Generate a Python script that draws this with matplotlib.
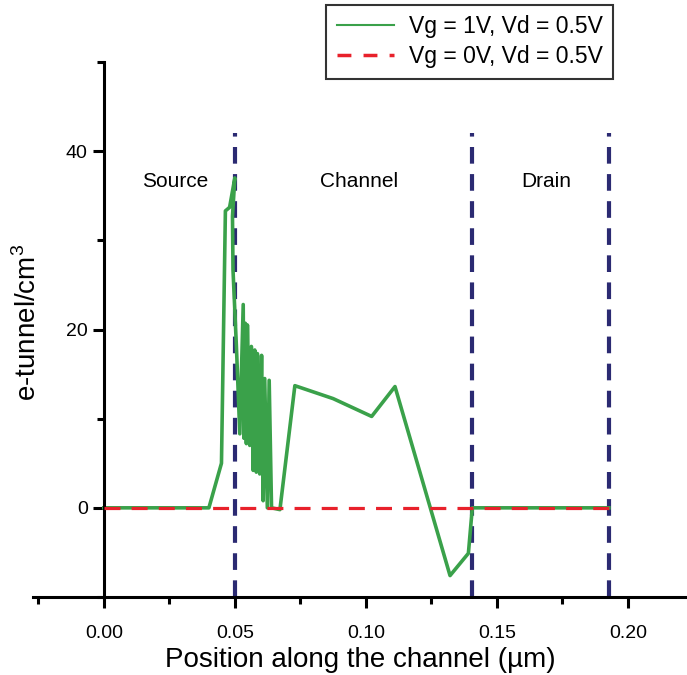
"""
plot.py
-------
e-tunnel density along the channel for two gate voltages.
Output: out.png
"""

import matplotlib.pyplot as plt
from matplotlib.lines import Line2D
from matplotlib.ticker import MultipleLocator

plt.rcParams["font.family"] = ["Liberation Sans", "DejaVu Sans"]

# ── Data ───────────────────────────────────────────────────────────────────────
POS_ON = [0.0, 0.0401, 0.0449, 0.0464, 0.0480, 0.0500, 0.0491, 0.0493, 0.0506,
          0.0519, 0.0532, 0.0535, 0.0540, 0.0544, 0.0548, 0.0557, 0.0563, 0.0570,
          0.0576, 0.0582, 0.0586, 0.0595, 0.0602, 0.0608, 0.0614, 0.0624, 0.0631,
          0.0640, 0.0672, 0.0729, 0.0875, 0.1022, 0.1111, 0.1321, 0.1391, 0.1406,
          0.1927]
TUNNEL_ON = [0.0, 0.0, 5.0, 33.3, 33.7, 37.0, 32.7, 26.7, 18.1,
             8.3, 22.8, 7.8, 20.7, 7.2, 20.5, 7.0, 18.1, 4.2,
             17.7, 4.0, 17.3, 3.8, 17.1, 0.8, 14.5, 0.0, 14.3,
             0.0, -0.2, 13.7, 12.25, 10.25, 13.6, -7.6, -5.1, 0.0,
             0.0]

POS_OFF = [0.0, 0.1927]
TUNNEL_OFF = [0.0, 0.0]

REGION_EDGES = [0.050, 0.1405, 0.1927]
REGION_NAMES = ["Source", "Channel", "Drain"]
REGION_LABEL_X = [0.0271, 0.0973, 0.1687]

LABELS = ["Vg = 1V, Vd = 0.5V", "Vg = 0V, Vd = 0.5V"]

GREEN = "#3aa14a"
RED = "#e8212b"
NAVY = "#2b2a72"

# ── Plot ───────────────────────────────────────────────────────────────────────
fig = plt.figure(figsize=(6.87, 6.75), dpi=100)
ax = fig.add_axes([33 / 687, 78 / 675, 654 / 687, 535 / 675])

ax.vlines(REGION_EDGES, -10, 42, colors=NAVY, linestyles=(0, (4, 2.5)), linewidth=3, zorder=1)
ax.plot(POS_ON, TUNNEL_ON, color=GREEN, linewidth=2.6, zorder=2)
ax.plot(POS_OFF, TUNNEL_OFF, color=RED, linewidth=2.3, linestyle=(0, (5, 3.5)), zorder=3)

for x, name in zip(REGION_LABEL_X, REGION_NAMES):
    ax.text(x, 36.6, name, ha="center", va="center", fontsize=15)

ax.set_xlim(-0.027, 0.2225)
ax.set_ylim(-10, 50)

ax.spines["top"].set_visible(False)
ax.spines["right"].set_visible(False)
ax.spines["left"].set_position(("data", 0))
ax.spines["left"].set_linewidth(2.2)
ax.spines["bottom"].set_linewidth(2.2)
ax.spines["left"].set_bounds(-10, 50)

ax.xaxis.set_major_locator(MultipleLocator(0.05))
ax.xaxis.set_minor_locator(MultipleLocator(0.025))
ax.yaxis.set_minor_locator(MultipleLocator(10))
ax.set_yticks([0, 20, 40])
ax.xaxis.set_major_formatter(plt.FuncFormatter(lambda v, p: f"{v:.2f}"))
ax.tick_params(which="major", length=8, width=2.2, labelsize=14, direction="out")
ax.tick_params(which="minor", length=5, width=2.2, direction="out")
ax.tick_params(axis="x", pad=12)

ax.set_xlabel("Position along the channel (µm)", fontsize=20, labelpad=4)
ax.set_ylabel("e-tunnel/cm$^\\mathregular{3}$", fontsize=20)
ax.yaxis.set_label_coords(42 / 687, (675 - 322) / 675, transform=fig.transFigure)

handles = [
    Line2D([], [], color=GREEN, linewidth=1.5),
    Line2D([], [], color=RED, linewidth=2.5, linestyle=(0, (4, 3.5))),
]
leg = fig.legend(handles, LABELS, loc="upper right", bbox_to_anchor=(613 / 687, 1 - 5 / 675),
                 fontsize=16.5, frameon=True, fancybox=False, edgecolor="black",
                 handlelength=2.5, handletextpad=0.65, borderpad=0.45,
                 labelspacing=0.3, borderaxespad=0)
leg.get_frame().set_linewidth(1.5)

fig.savefig("out.png", dpi=100)
